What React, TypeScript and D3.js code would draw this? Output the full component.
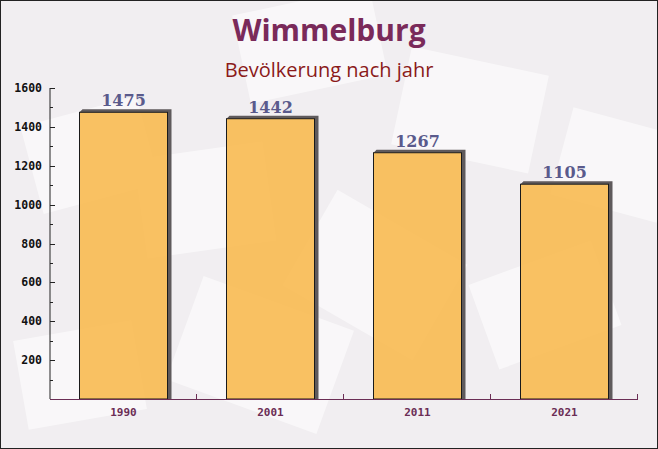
import React from "react";
import * as d3 from "d3";

const years = ["1990", "2001", "2011", "2021"];
const population = [1475, 1442, 1267, 1105];
const yTicks = [200, 400, 600, 800, 1000, 1200, 1400, 1600];
const title = "Wimmelburg";
const subtitle = "Bevölkerung nach jahr";

const W = 658;
const H = 449;
const left = 50;
const right = 638;
const top = 88;
const bottom = 399;

export default function App() {
  const x = d3.scaleBand().domain(years).range([left, right]).paddingInner(0).paddingOuter(0);
  const y = d3.scaleLinear().domain([0, 1600]).range([bottom, top]);
  const barW = 88;
  const minor = d3.range(100, 1600, 200);
  const decor = [
    { x: 30, y: 110, w: 120, h: 90, r: -15 },
    { x: 140, y: 150, w: 130, h: 100, r: -8 },
    { x: 300, y: 220, w: 150, h: 110, r: 30 },
    { x: 400, y: 60, w: 140, h: 100, r: 12 },
    { x: 480, y: 260, w: 130, h: 90, r: -20 },
    { x: 180, y: 300, w: 160, h: 110, r: 20 },
    { x: 560, y: 120, w: 110, h: 90, r: 15 },
    { x: 20, y: 330, w: 120, h: 90, r: -10 },
    { x: 240, y: 0, w: 140, h: 90, r: -12 },
  ];
  return (
    <svg width={W} height={H} style={{ position: "absolute", left: 0, top: 0 }}>
      <rect x={0} y={0} width={W} height={H} fill="#f1eef1" />
      {decor.map((d, i) => (
        <rect key={i} x={d.x} y={d.y} width={d.w} height={d.h} fill="#ffffff" opacity={0.55}
          transform={`rotate(${d.r},${d.x + d.w / 2},${d.y + d.h / 2})`} />
      ))}
      <rect x={0.5} y={0.5} width={W - 1} height={H - 1} fill="none" stroke="#222" strokeWidth={1} />
      <text x={W / 2} y={41} textAnchor="middle" fontFamily="'Open Sans', 'DejaVu Sans', sans-serif" fontWeight="bold" fontSize={30} fill="#7a2a5a">{title}</text>
      <text x={W / 2} y={77} textAnchor="middle" fontFamily="'Open Sans', 'DejaVu Sans', sans-serif" fontSize={20} fill="#8b1a1a">{subtitle}</text>
      {years.map((yr, i) => {
        const cx = (x(yr) as number) + x.bandwidth() / 2;
        const bx = cx - barW / 2;
        const by = y(population[i]);
        const h = bottom - by;
        return (
          <g key={yr}>
            <polygon points={`${bx},${by} ${bx + 3},${by - 3} ${bx + barW + 4},${by - 3} ${bx + barW + 4},${bottom} ${bx + barW},${bottom} ${bx + barW},${by}`} fill="#5f5a5c" />
            <rect x={bx} y={by} width={barW} height={h} fill="#f8bc55" fillOpacity={0.92} stroke="#1a1a1a" strokeWidth={1} />
            <text x={cx} y={by - 6} textAnchor="middle" fontFamily="'DejaVu Serif', serif" fontWeight="bold" fontSize={16} fill="#5a5a8c">{population[i]}</text>
            <text x={cx} y={bottom + 17} textAnchor="middle" fontFamily="'DejaVu Sans Mono', monospace" fontWeight="bold" fontSize={11} fill="#6b2d55">{yr}</text>
          </g>
        );
      })}
      <line x1={left} x2={left} y1={top} y2={bottom} stroke="#222" />
      <line x1={left} x2={right} y1={bottom + 0.5} y2={bottom + 0.5} stroke="#6b2d55" />
      {yTicks.map((t) => (
        <g key={t}>
          <line x1={left} x2={left + 5} y1={Math.round(y(t)) + 0.5} y2={Math.round(y(t)) + 0.5} stroke="#222" />
          <text x={left - 8} y={y(t) + 4} textAnchor="end" fontFamily="'DejaVu Sans Mono', monospace" fontWeight="bold" fontSize={11.5} fill="#111">{t}</text>
        </g>
      ))}
      {minor.map((t) => (
        <line key={t} x1={left} x2={left + 3} y1={Math.round(y(t)) + 0.5} y2={Math.round(y(t)) + 0.5} stroke="#222" />
      ))}
      {years.map((yr) => {
        const xr = (x(yr) as number) + x.bandwidth();
        return (
          <line key={yr} x1={xr - 0.5} x2={xr - 0.5} y1={bottom} y2={bottom - 5} stroke="#6b2d55" />
        );
      })}
    </svg>
  );
}
